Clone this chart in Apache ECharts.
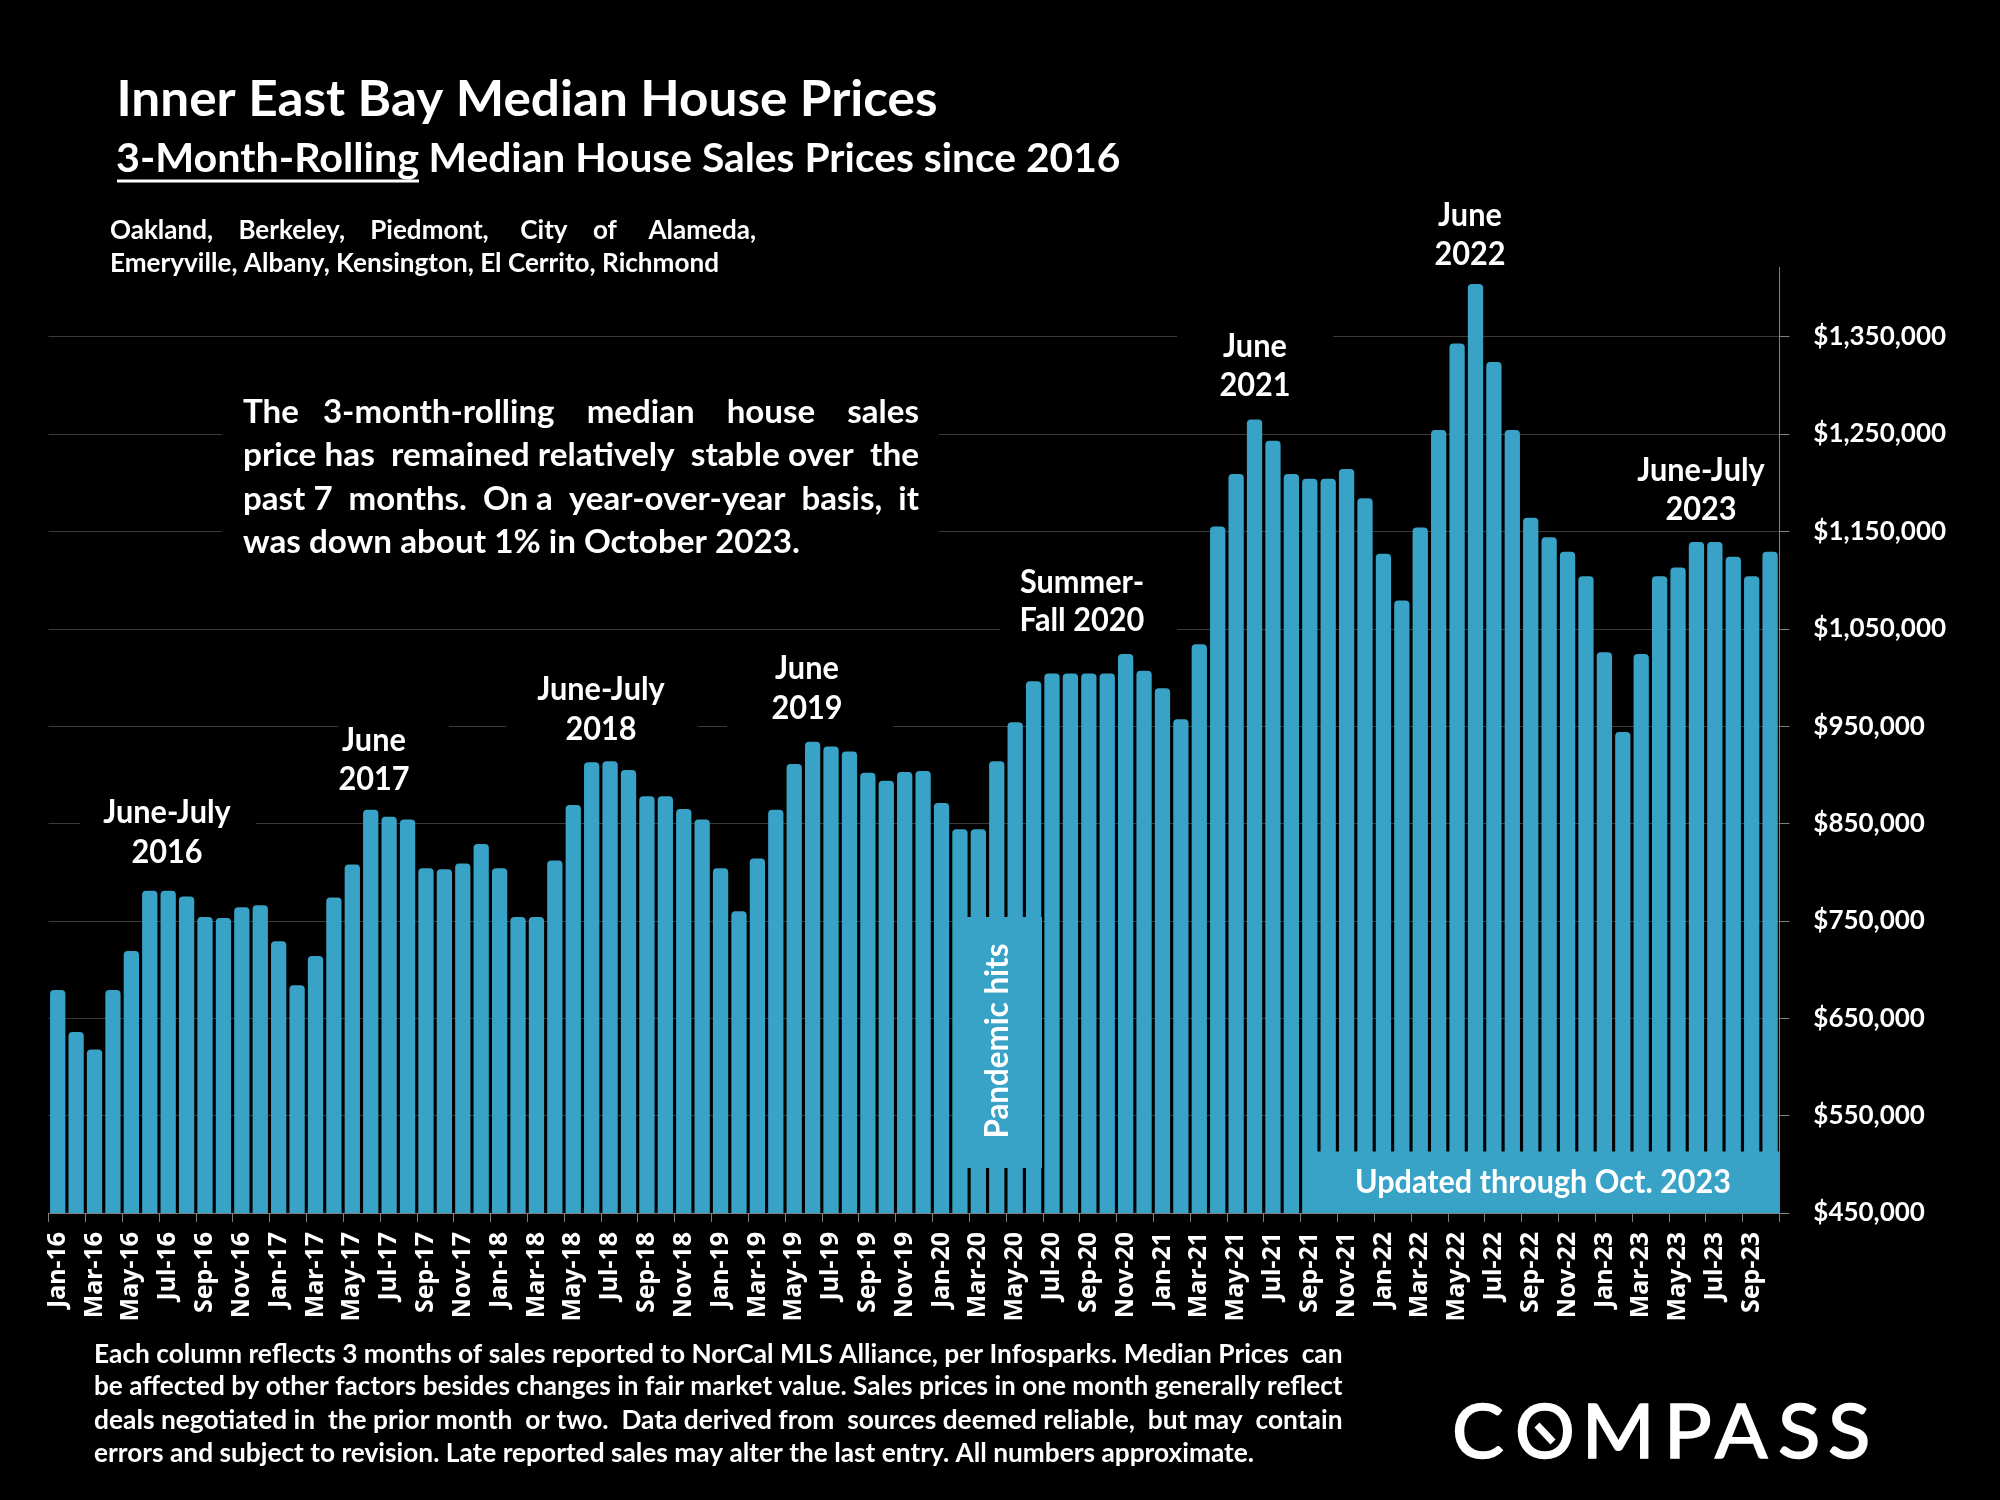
<!DOCTYPE html>
<html><head><meta charset="utf-8">
<style>html,body{margin:0;padding:0;background:#000}#c{width:2000px;height:1500px}</style>
<script src="https://cdn.jsdelivr.net/npm/echarts@6/dist/echarts.min.js"></script>
</head><body><div id="c"></div>
<script>
const monthNames = ['Jan','Feb','Mar','Apr','May','Jun','Jul','Aug','Sep','Oct','Nov','Dec'];
const years = ['16','17','18','19','20','21','22','23'];
const categories = [];
years.forEach(y => monthNames.forEach((m,i) => { if (y !== '23' || i < 10) categories.push(m + '-' + y); }));

const medianPrices2016 = [679,636,618,679,719,781,781,775,754,753,764,766];
const medianPrices2017 = [729,684,714,774,808,864,857,854,804,803,809,829];
const medianPrices2018 = [804,754,754,812,869,913,914,905,878,878,865,854];
const medianPrices2019 = [804,760,814,864,911,934,929,924,902,894,903,904];
const medianPrices2020 = [871,844,844,914,954,996,1004,1004,1004,1004,1024,1007];
const medianPrices2021 = [989,957,1034,1155,1209,1265,1243,1209,1204,1204,1214,1184];
const medianPrices2022 = [1127,1079,1154,1254,1343,1404,1324,1254,1164,1144,1129,1104];
const medianPrices2023 = [1026,944,1024,1104,1113,1139,1139,1124,1104,1129];
const medianPrices = [].concat(medianPrices2016,medianPrices2017,medianPrices2018,medianPrices2019,
  medianPrices2020,medianPrices2021,medianPrices2022,medianPrices2023).map(v => v*1000);
const yTicks = [450000,550000,650000,750000,850000,950000,1050000,1150000,1250000,1350000];

const titleText = 'Inner East Bay Median House Prices';
const subtitleUnderlined = '3-Month-Rolling';
const subtitleRest = 'Median House Sales Prices since 2016';
const citiesLines = ['Oakland, Berkeley, Piedmont, City of Alameda,','Emeryville, Albany, Kensington, El Cerrito, Richmond'];
const summaryLines = ['The 3-month-rolling median house sales','price has remained relatively stable over the','past 7 months. On a year-over-year basis, it','was down about 1% in October 2023.'];
const footnoteLines = ['Each column reflects 3 months of sales reported to NorCal MLS Alliance, per Infosparks. Median Prices can',
 'be affected by other factors besides changes in fair market value. Sales prices in one month generally reflect',
 'deals negotiated in the prior month or two. Data derived from sources deemed reliable, but may contain',
 'errors and subject to revision. Late reported sales may alter the last entry. All numbers approximate.'];
const peakNotes = [
 {lines:['June-July','2016'], x:167, y:[812,852]},
 {lines:['June','2017'], x:374, y:[740,779]},
 {lines:['June-July','2018'], x:601, y:[689,729]},
 {lines:['June','2019'], x:807, y:[668,708]},
 {lines:['Summer-','Fall 2020'], x:1082, y:[582,620]},
 {lines:['June','2021'], x:1255, y:[346,385]},
 {lines:['June','2022'], x:1470, y:[215,254]},
 {lines:['June-July','2023'], x:1701, y:[470,509]}
];
const gridGaps = [[80,256,823],[338,449,726],[506,698,726],[727,893,726],[1000,1177,628],[1177,1333,336],[222,939,433],[222,939,531]];

const FONT = 'Lato, "Noto Sans", sans-serif';
const BLUE = '#38a3c7';
const mctx = document.createElement('canvas').getContext('2d');
function measure(t,size,weight){ mctx.font = weight+' '+size+'px '+FONT; return mctx.measureText(t).width; }

function txt(t,x,y,size,o){
  o = o||{};
  const weight = o.weight||'bold';
  let sx = o.sx||1;
  if (o.width) sx = o.width/measure(t,size,weight);
  return {type:'text', x:x, y:y, scaleX:sx, z:o.z||50, silent:true,
    style:{text:t, x:0, y:0, fill:o.fill||'#fff', font:weight+' '+size+'px '+FONT, align:o.align||'left', verticalAlign:'middle'}};
}
// justified line: widen the gaps with extra spaces, then fine fit to the width
function just(line,x,y,size,width,sx0){
  const weight='bold', target=width/sx0;
  const words=line.split(' '), gaps=words.length-1;
  const sp=measure(' ',size,weight);
  let extra=Math.max(0,Math.round((target-measure(line,size,weight))/sp));
  let s=words[0];
  for(let i=1;i<words.length;i++){
    const add=Math.floor(extra*i/gaps)-Math.floor(extra*(i-1)/gaps);
    s+=' '.repeat(1+add)+words[i];
  }
  return txt(s,x,y,size,{width:width});
}
// one logo letter whose ink spans x0..x1
function logoLetter(ch,x0,x1,y,size){
  mctx.font='normal '+size+'px '+FONT;
  const m=mctx.measureText(ch);
  const ink=m.actualBoundingBoxLeft+m.actualBoundingBoxRight;
  const sx=(x1-x0)/ink;
  return {type:'text',x:x0+m.actualBoundingBoxLeft*sx,y:y,scaleX:sx,z:50,silent:true,
    style:{text:ch,x:0,y:0,fill:'#fff',stroke:'#fff',lineWidth:1.6,font:'normal '+size+'px '+FONT,align:'left',verticalAlign:'middle'}};
}

const g=[];
gridGaps.forEach(a=>g.push({type:'rect',z:3,silent:true,shape:{x:a[0],y:a[2]-4,width:a[1]-a[0],height:8},style:{fill:'#000'}}));
g.push(txt(titleText,116.5,100,50,{width:821}));
g.push(txt(subtitleUnderlined,116,159,41,{width:303}));
g.push({type:'rect',z:50,silent:true,shape:{x:117,y:179.5,width:302,height:3},style:{fill:'#fff'}});
g.push(txt(subtitleRest,428.5,159,41,{width:692}));
const citiesScale=609/measure(citiesLines[1],27,'bold');
g.push(just(citiesLines[0],110,230,27,646,citiesScale));
g.push(txt(citiesLines[1],110,263,27,{width:609}));
const summaryScale=557/measure(summaryLines[3],33,'bold');
summaryLines.forEach((l,i)=>{
  const y=[412,455,499,542][i];
  g.push(i<3?just(l,243,y,33,676,summaryScale):txt(l,243,y,33,{width:557}));
});
const footScale=1160/measure(footnoteLines[3],26,'bold');
footnoteLines.forEach((l,i)=>{
  const y=[1354.5,1387,1420.5,1454][i];
  g.push(i<3?just(l,94,y,26,1248.5,footScale):txt(l,94,y,26,{width:1160}));
});
peakNotes.forEach(n=>n.lines.forEach((l,i)=>g.push(txt(l,n.x,n.y[i],33,{align:'center',sx:0.93}))));
// callout boxes
g.push({type:'rect',z:40,silent:true,shape:{x:953,y:917,width:89,height:251},style:{fill:BLUE}});
g.push({type:'text',x:997,y:1041,rotation:Math.PI/2,z:50,silent:true,scaleX:195/measure('Pandemic hits',33,'bold'),
  style:{text:'Pandemic hits',x:0,y:0,fill:'#fff',font:'bold 33px '+FONT,align:'center',verticalAlign:'middle'}});
g.push({type:'rect',z:40,silent:true,shape:{x:1305,y:1151.5,width:474.3,height:61.5},style:{fill:BLUE}});
g.push(txt('Updated through Oct. 2023',1543,1182,33,{align:'center',width:376}));
// logo
const logoLetters=[['C',1455,1503],['O',1518,1572],['M',1588,1648],['P',1670,1710],['A',1715,1768],['S',1780,1817],['S',1830,1867]];
logoLetters.forEach(a=>g.push(logoLetter(a[0],a[1],a[2],1433,76)));
g.push({type:'line',z:60,silent:true,shape:{x1:1537,y1:1425,x2:1553,y2:1442},style:{stroke:'#fff',lineWidth:7,lineCap:'butt'}});

const chart=echarts.init(document.getElementById('c'),null,{renderer:'canvas',width:2000,height:1500});
chart.setOption({
  backgroundColor:'#000',
  animation:false,
  grid:{left:48.5,right:220.7,top:267.5,bottom:287,containLabel:false},
  xAxis:{type:'category',data:categories,boundaryGap:true,
    axisLine:{show:true,lineStyle:{color:'#808080',width:1}},
    axisTick:{show:true,interval:1,length:9,alignWithLabel:false,lineStyle:{color:'#808080',width:1}},
    axisLabel:{interval:1,rotate:90,margin:19,color:'#fff',fontFamily:'"Noto Sans"',fontWeight:'bold',fontSize:25},
    splitLine:{show:false}},
  yAxis:{type:'value',position:'right',min:450000,max:1421000,
    axisLine:{show:true,onZero:false,lineStyle:{color:'#808080',width:1}},
    axisTick:{show:true,length:10,customValues:yTicks,lineStyle:{color:'#808080',width:1}},
    axisLabel:{customValues:yTicks,margin:34,color:'#fff',fontFamily:FONT,fontWeight:'bold',fontSize:26,
      formatter:v=>'$'+Number(v).toLocaleString('en-US')},
    splitLine:{show:true,lineStyle:{color:'#3a3a3a',width:1}}},
  series:[{type:'bar',data:medianPrices,barCategoryGap:'17%',itemStyle:{color:BLUE,borderRadius:[4,4,0,0]}}],
  graphic:{elements:g}
});
</script></body></html>
